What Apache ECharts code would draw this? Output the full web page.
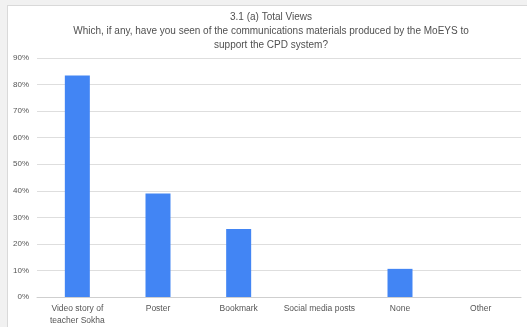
<!DOCTYPE html>
<html>
<head>
<meta charset="utf-8">
<script src="https://cdn.jsdelivr.net/npm/echarts@6/dist/echarts.min.js"></script>
<style>
  html, body { margin: 0; padding: 0; background: #f1f1f1; width: 527px; height: 327px; overflow: hidden; }
  #frame { position: absolute; left: 7px; top: 5px; width: 530px; height: 330px; background: #fff; border: 1px solid #d9d9d9; box-sizing: border-box; }
  #chart { position: absolute; left: 0; top: 0; width: 527px; height: 327px; }
</style>
</head>
<body>
<div id="frame"></div>
<div id="chart"></div>
<script>
// Survey responses: share of respondents who saw each material
const categories = ['Video story of\nteacher Sokha', 'Poster', 'Bookmark', 'Social media posts', 'None', 'Other'];
const shares = [83.4, 39, 25.6, 0, 10.6, 0];
const yTicks = [0, 10, 20, 30, 40, 50, 60, 70, 80, 90];

const chart = echarts.init(document.getElementById('chart'), null, { renderer: 'canvas' });
chart.setOption({
  animation: false,
  backgroundColor: 'transparent',
  title: {
    text: '3.1 (a) Total Views\nWhich, if any, have you seen of the communications materials produced by the MoEYS to\nsupport the CPD system?',
    left: 266,
    textAlign: 'center',
    top: 5,
    textStyle: { fontFamily: 'Liberation Sans, Arial, sans-serif', fontSize: 10, fontWeight: 'normal', color: '#505050', lineHeight: 14 }
  },
  grid: { left: 37, right: 6, top: 58, bottom: 29, containLabel: false },
  xAxis: {
    type: 'category',
    data: categories,
    axisLine: { lineStyle: { color: '#cfcfcf' } },
    axisTick: { show: false },
    axisLabel: { interval: 0, fontFamily: 'Liberation Sans, Arial, sans-serif', fontSize: 8.5, color: '#555', margin: 6, lineHeight: 12 }
  },
  yAxis: {
    type: 'value',
    min: yTicks[0],
    max: yTicks[yTicks.length - 1],
    interval: 10,
    axisLine: { show: false },
    axisTick: { show: false },
    splitLine: { lineStyle: { color: '#dedede' } },
    axisLabel: { formatter: '{value}%', fontFamily: 'Liberation Sans, Arial, sans-serif', fontSize: 8, color: '#555', margin: 8 }
  },
  series: [{
    type: 'bar',
    data: shares,
    barWidth: 25,
    itemStyle: { color: '#4285f4' }
  }]
});
</script>
</body>
</html>
